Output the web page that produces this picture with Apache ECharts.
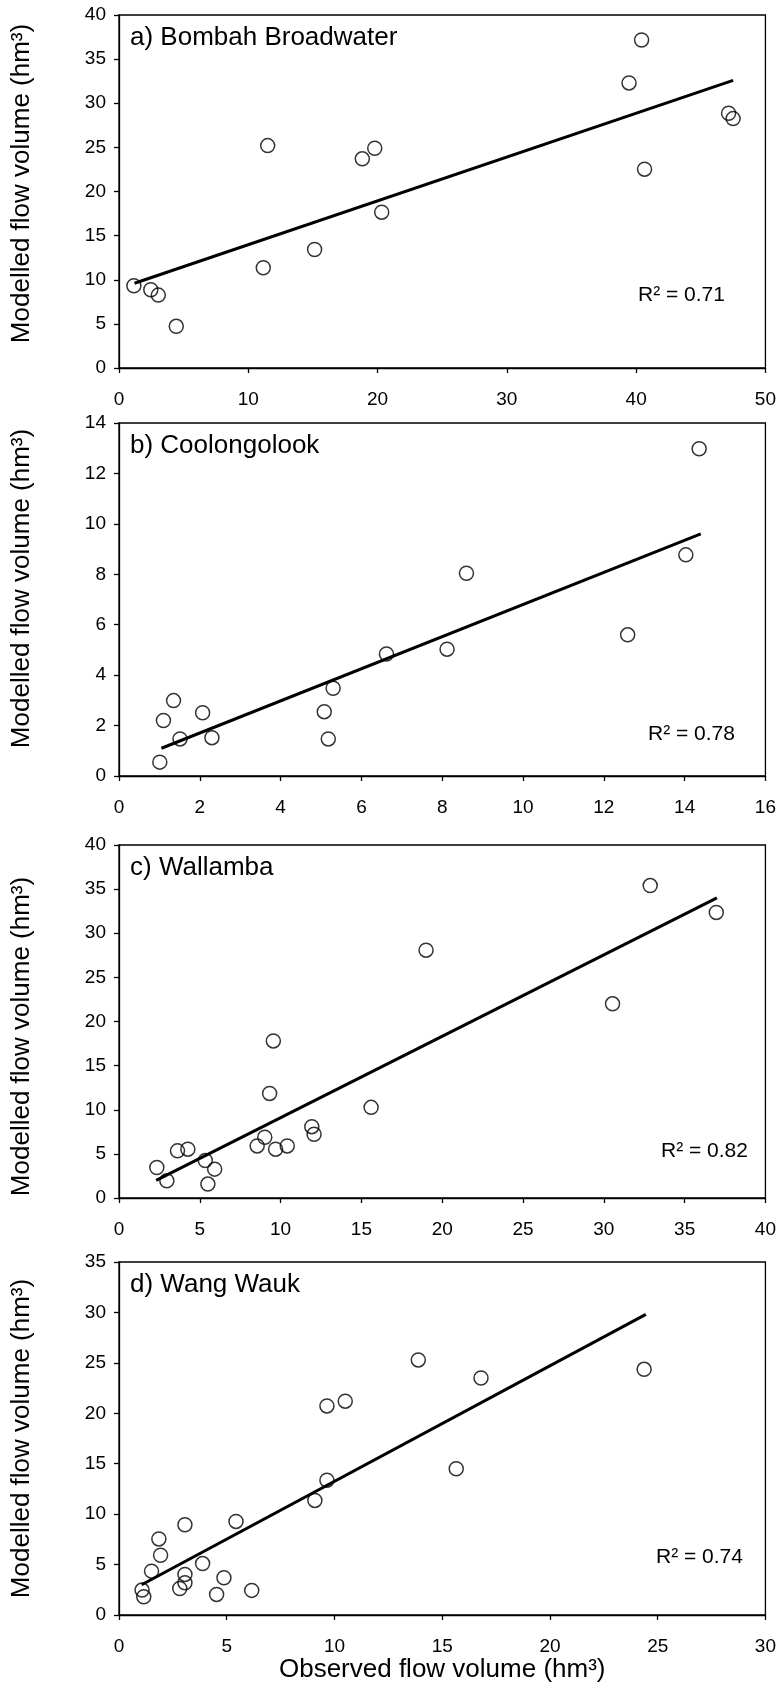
<!DOCTYPE html>
<html>
<head>
<meta charset="utf-8">
<script src="https://cdn.jsdelivr.net/npm/echarts@6/dist/echarts.min.js"></script>
<style>
html,body{margin:0;padding:0;background:#fff;}
#chart{width:779px;height:1691px;}
</style>
</head>
<body>
<div id="chart"></div>
<script>
// ---- data ----
const obsA = [1.15, 2.46, 3.04, 4.43, 11.16, 11.5, 15.13, 18.82, 19.78, 20.32, 39.45, 40.42, 40.65, 47.15, 47.5];
const modA = [9.32, 8.87, 8.26, 4.72, 11.36, 25.2, 13.43, 23.7, 24.9, 17.66, 32.3, 37.17, 22.53, 28.87, 28.26];
const trendA = [[1.2, 9.6], [47.5, 32.6]];

const obsB = [1.01, 1.1, 1.35, 1.51, 2.07, 2.3, 5.08, 5.18, 5.3, 6.62, 8.12, 8.6, 12.59, 14.03, 14.36];
const modB = [0.55, 2.2, 2.99, 1.47, 2.51, 1.52, 2.55, 1.47, 3.48, 4.84, 5.03, 8.04, 5.6, 8.77, 12.98];
const trendB = [[1.05, 1.1], [14.4, 9.6]];

const obsC = [2.34, 2.96, 3.62, 4.26, 5.34, 5.92, 5.5, 8.55, 9.02, 9.69, 10.41, 11.93, 12.07, 9.32, 9.55, 15.6, 19.0, 30.54, 32.87, 36.96];
const modC = [3.46, 1.95, 5.34, 5.53, 4.25, 3.27, 1.58, 5.9, 6.88, 5.53, 5.9, 8.08, 7.22, 11.85, 17.8, 10.27, 28.08, 22.0, 35.4, 32.36];
const trendC = [[2.3, 2.0], [37.0, 34.0]];

const obsD = [1.07, 1.15, 1.51, 1.85, 1.93, 2.82, 3.06, 3.06, 3.06, 3.88, 4.53, 4.87, 5.43, 6.16, 9.09, 9.65, 9.65, 10.5, 13.89, 15.65, 16.8, 24.37];
const modD = [2.47, 1.81, 4.35, 7.54, 5.92, 2.63, 3.2, 4.02, 8.95, 5.1, 2.04, 3.69, 9.28, 2.44, 11.36, 13.37, 20.73, 21.2, 25.29, 14.5, 23.5, 24.36];
const trendD = [[1.05, 3.0], [24.45, 29.8]];

const panelLabels = ['a) Bombah Broadwater', 'b) Coolongolook', 'c) Wallamba', 'd) Wang Wauk'];
const r2Labels = ['R² = 0.71', 'R² = 0.78', 'R² = 0.82', 'R² = 0.74'];
const xMaxes = [50, 16, 40, 30];
const xSteps = [10, 2, 5, 5];
const yMaxes = [40, 14, 40, 35];
const ySteps = [5, 2, 5, 5];
const yTitle = 'Modelled flow volume (hm³)';
const xTitle = 'Observed flow volume (hm³)';

// ---- layout ----
const FONT = "'Liberation Sans', Arial, Helvetica, sans-serif";
const gridTops = [15, 423, 845, 1262];
const gridH = 353;
const r2Left = [638, 648, 661, 656];
const r2Center = [295, 734.5, 1151.5, 1557.5];
const yNamePad = [[0, 0, 0, 16], [0, 0, 0, 22], [0, 30, 0, 0], [0, 0, 0, 0]];

const obsAll = [obsA, obsB, obsC, obsD];
const modAll = [modA, modB, modC, modD];
const trendAll = [trendA, trendB, trendC, trendD];

const grids = [], xAxes = [], yAxes = [], series = [], titles = [];
for (let i = 0; i < 4; i++) {
  grids.push({left: 119, right: 12.5, top: gridTops[i], height: gridH,
    show: true, borderColor: '#000', borderWidth: 1.3, backgroundColor: 'transparent'});
  xAxes.push({
    type: 'value', gridIndex: i, min: 0, max: xMaxes[i], interval: xSteps[i],
    axisLine: {show: true, onZero: false, lineStyle: {color: '#000', width: 1.3}},
    axisTick: {show: true, inside: false, length: 5, lineStyle: {color: '#000', width: 1.3}},
    axisLabel: {color: '#000', fontSize: 19, fontFamily: FONT, margin: 22},
    splitLine: {show: false},
    name: i === 3 ? xTitle : '',
    nameLocation: 'middle', nameGap: 42,
    nameTextStyle: {color: '#000', fontSize: 26, fontFamily: FONT}
  });
  yAxes.push({
    type: 'value', gridIndex: i, min: 0, max: yMaxes[i], interval: ySteps[i],
    axisLine: {show: true, onZero: false, lineStyle: {color: '#000', width: 1.3}},
    axisTick: {show: true, inside: false, length: 5, lineStyle: {color: '#000', width: 1.3}},
    axisLabel: {color: '#000', fontSize: 19, fontFamily: FONT, margin: 13},
    splitLine: {show: false},
    name: yTitle, nameLocation: 'middle', nameGap: 84,
    nameTextStyle: {color: '#000', fontSize: 26, fontFamily: FONT, padding: yNamePad[i]}
  });
  series.push({
    type: 'scatter', xAxisIndex: i, yAxisIndex: i,
    data: obsAll[i].map((x, k) => [x, modAll[i][k]]),
    symbol: 'circle', symbolSize: 14,
    itemStyle: {color: 'rgba(0,0,0,0)', borderColor: '#000', borderWidth: 1.5},
    silent: true, z: 3
  });
  series.push({
    type: 'line', xAxisIndex: i, yAxisIndex: i,
    data: trendAll[i], showSymbol: false, symbol: 'none',
    lineStyle: {color: '#000', width: 3}, silent: true, z: 2
  });
  titles.push({text: panelLabels[i], left: 130, top: gridTops[i] + 10, padding: 0,
    textStyle: {color: '#000', fontSize: 26, fontWeight: 'normal', fontFamily: FONT}});
  titles.push({text: r2Labels[i], left: r2Left[i], top: r2Center[i] - 10.5, padding: 0,
    textStyle: {color: '#000', fontSize: 21, fontWeight: 'normal', fontFamily: FONT}});
}

const chart = echarts.init(document.getElementById('chart'), null, {renderer: 'canvas'});
chart.setOption({
  backgroundColor: '#fff',
  animation: false,
  title: titles,
  grid: grids,
  xAxis: xAxes,
  yAxis: yAxes,
  series: series
});
</script>
</body>
</html>
